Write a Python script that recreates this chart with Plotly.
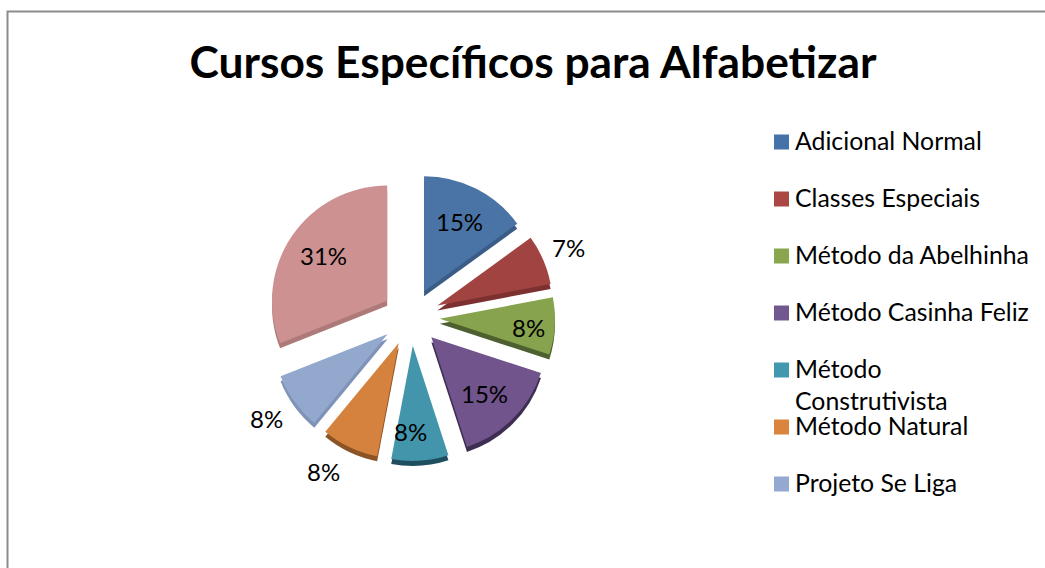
import plotly.graph_objects as go

W, H = 1045, 568
TITLE = "Cursos Específicos para Alfabetizar"
categories = ["Adicional Normal", "Classes Especiais", "Método da Abelhinha", "Método Casinha Feliz",
              "Método Construtivista", "Método Natural", "Projeto Se Liga", " "]
legend_labels = ["Adicional Normal", "Classes Especiais", "Método da Abelhinha", "Método Casinha Feliz",
                 "Método<br>Construtivista", "Método Natural", "Projeto Se Liga"]
values = [15, 7, 8, 15, 8, 8, 8, 31]
face_colors = ["#4A73A6", "#A14340", "#87A34D", "#70548B", "#4295AB", "#D4823E", "#93A8CD", "#CC9190"]
side_colors = ["#3A5C87", "#7C3130", "#4E6030", "#3E2E52", "#1F4E5E", "#8C5426", "#7F93B8", "#AD7A79"]
legend_colors = ["#4572A7", "#AA4643", "#89A54E", "#71588F", "#4198AF", "#DB843D", "#93A9CF"]
pull = [0.25] * 8
label_xy = [(459, 221), (568, 248), (528, 327), (484, 393), (410, 431), (323, 471), (266, 418), (323, 255)]

FONT = "Lato"
cx, cy, R = 411, 317, 144
def dom(dy):
    return dict(x=[(cx - R) / W, (cx + R) / W], y=[1 - (cy + dy + R) / H, 1 - (cy + dy - R) / H])

fig = go.Figure()
fig.add_trace(go.Pie(labels=categories, values=values, sort=False, direction="clockwise", rotation=0,
                     pull=pull, domain=dom(5), marker=dict(colors=side_colors, line=dict(width=0)),
                     textinfo="none", hoverinfo="skip", showlegend=False))
fig.add_trace(go.Pie(labels=categories, values=values, sort=False, direction="clockwise", rotation=0,
                     pull=pull, domain=dom(0), marker=dict(colors=face_colors, line=dict(width=0)),
                     textinfo="none", showlegend=False))

legend_y = [142, 199, 256, 313, 370, 427, 484]
shapes = [dict(type="rect", xref="paper", yref="paper", x0=7.5 / W, x1=1060 / W, y0=1 - 11.5 / H, y1=-0.1,
               line=dict(color="#8C8C8C", width=2), fillcolor="rgba(0,0,0,0)")]
annotations = []
for v, (x, y) in zip(values, label_xy):
    annotations.append(dict(text=f"{v}%", xref="paper", yref="paper", x=x / W, y=1 - y / H,
                            xanchor="center", yanchor="middle", showarrow=False,
                            font=dict(family=FONT, size=24, color="#000000")))
for lab, col, y in zip(legend_labels, legend_colors, legend_y):
    shapes.append(dict(type="rect", xref="paper", yref="paper", x0=774 / W, x1=789 / W,
                       y0=1 - (y + 7.5) / H, y1=1 - (y - 7.5) / H, fillcolor=col, line=dict(width=0)))
    annotations.append(dict(text=lab, xref="paper", yref="paper", x=793 / W, y=1 - (y - 18) / H,
                            xanchor="left", yanchor="top", align="left", showarrow=False,
                            font=dict(family=FONT, size=24.8, color="#000000")))

fig.update_layout(width=W, height=H, margin=dict(l=0, r=0, t=0, b=0), paper_bgcolor="#FFFFFF",
                  title=dict(text=f"<b>{TITLE}</b>", x=533 / W, xanchor="center", y=1 - 62 / H, yanchor="middle",
                             font=dict(family=FONT, size=44.3, color="#000000")),
                  shapes=shapes, annotations=annotations, showlegend=False)
fig.write_html("out.html", config={"displayModeBar": False},
               post_script="document.body.style.margin='0';document.body.style.overflow='hidden';")
